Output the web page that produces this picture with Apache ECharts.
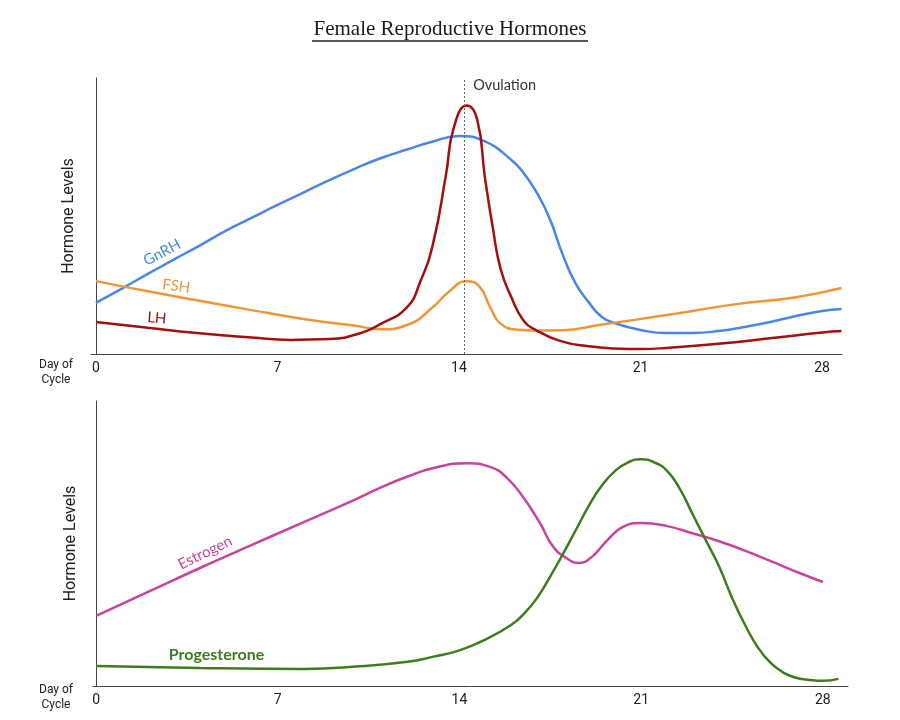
<!DOCTYPE html>
<html>
<head>
<meta charset="utf-8">
<script src="https://cdn.jsdelivr.net/npm/echarts@6/dist/echarts.min.js"></script>
<style>
  html, body { margin: 0; padding: 0; background: #fff; }
  #main { width: 900px; height: 720px; }
</style>
</head>
<body>
<div id="main"></div>
<script>
// day of cycle ticks
var dayTicks = [0, 7, 14, 21, 28];
var ovulationDay = 14.3;

// top panel
var gnrhDays = [0, 1, 2, 3, 4, 5, 6, 7, 8, 9, 10, 11, 12, 13, 14, 15, 16, 16.5, 17, 17.5, 18, 18.5, 19, 19.5, 20, 21, 22, 23, 24, 25, 26, 27, 28, 28.75];
var gnrhVals = [18.5, 23.7, 29, 34.2, 39.3, 44.6, 49.3, 54, 58.5, 63, 67.2, 71, 74.1, 77, 79, 77, 70.5, 65.5, 58.5, 49, 36, 25.5, 18.8, 13.5, 11.2, 8.7, 7.6, 7.6, 8.3, 9.8, 11.6, 13.8, 15.6, 16.3];

var fshDays = [0, 2, 4, 6, 8, 10, 11, 12, 13, 13.6, 14.3, 14.8, 15.2, 15.6, 16.3, 17, 18, 19.4, 22, 24.5, 27, 28.75];
var fshVals = [26.4, 22.7, 19.3, 15.9, 12.7, 10.2, 9, 10.5, 17, 22.5, 26.4, 24.3, 17, 11, 8.8, 8.5, 8.6, 10.5, 14.1, 17.8, 20.6, 23.9];

var lhDays = [0, 2, 4, 6, 7.5, 9, 10, 11, 12, 12.5, 13, 13.5, 13.8, 14.3, 14.7, 15, 15.3, 15.6, 16, 16.5, 17, 18, 19, 20, 21, 22, 24, 26, 28, 28.75];
var lhVals = [11.6, 9.5, 7.5, 6, 5.1, 5.4, 7, 11, 17, 26, 40, 65, 82, 90, 85, 64, 46, 31, 21, 12, 8.5, 4.5, 2.8, 2, 1.8, 2.2, 3.7, 5.7, 7.8, 8.3];

// bottom panel
var estrogenDays = [0, 2, 4, 6, 8, 10, 11, 12, 13, 14.3, 15.2, 15.8, 16.45, 17.1, 17.6, 18.1, 18.6, 19.1, 19.7, 20.3, 21, 22, 23, 24, 25, 26, 27, 28];
var estrogenVals = [24.6, 33, 41.4, 49.5, 57.5, 65.5, 69.8, 73.5, 76.5, 78.2, 76.8, 73.3, 66.3, 57.2, 49, 45, 43.2, 45.3, 51.2, 55.8, 57.2, 56.1, 53.5, 50.8, 47.5, 43.8, 40, 36.5];

var progDays = [0, 4, 8, 10, 12, 13, 14, 15, 16, 16.5, 17, 17.5, 18, 18.5, 19, 19.5, 20, 20.5, 21, 21.5, 22, 22.5, 23, 23.5, 24, 24.5, 25, 25.5, 26, 26.5, 27, 27.5, 28, 28.6];
var progVals = [7, 6.3, 6, 6.8, 8.5, 10.3, 12.5, 16.3, 21.5, 25.5, 31, 38.5, 46.5, 55, 63.5, 70.5, 75.5, 78.5, 79.6, 78.5, 75.5, 69, 60, 51, 42, 31, 21.5, 13.5, 8, 4.6, 2.8, 2.1, 1.8, 2.5];

function pairs(days, vals) {
  return days.map(function (d, i) { return [d, vals[i]]; });
}

var chart = echarts.init(document.getElementById('main'));

var axisFont = 'Roboto, "Liberation Sans", sans-serif';
var labelFont = 'Lato, "Noto Sans", sans-serif';

function xAxisFor(idx, min, max) {
  return {
    type: 'value', gridIndex: idx, min: min, max: max,
    axisLine: { show: true, onZero: false, lineStyle: { color: '#444', width: 1 } },
    axisTick: { show: false },
    splitLine: { show: false },
    axisLabel: { customValues: dayTicks, color: '#222', fontSize: 14, margin: 7, fontFamily: axisFont }
  };
}
function yAxisFor(idx) {
  return {
    type: 'value', gridIndex: idx, min: 0, max: 100,
    name: 'Hormone Levels', nameLocation: 'middle', nameGap: 14,
    nameTextStyle: { color: '#222', fontSize: 16, fontFamily: axisFont },
    axisLine: { show: true, lineStyle: { color: '#444', width: 1 } },
    axisTick: { show: false }, axisLabel: { show: false }, splitLine: { show: false }
  };
}

function ovulation(yTop, yLabel) {
  return {
    markLine: {
      silent: true, symbol: 'none', animation: false,
      lineStyle: { color: '#666', type: [2, 2], width: 1 },
      label: { show: false },
      data: [[{ coord: [ovulationDay - 0.1, 0] }, { coord: [ovulationDay - 0.1, yTop] }]]
    },
    markPoint: {
      silent: true, symbol: 'circle', symbolSize: 0, animation: false,
      label: { show: true, position: 'right', distance: 9, formatter: 'Ovulation', color: '#333', fontSize: 14.5, fontFamily: labelFont },
      data: [{ coord: [ovulationDay - 0.1, yLabel] }]
    }
  };
}

function nameTag(text, day, val, color, rot, bold) {
  return {
    silent: true, symbol: 'circle', symbolSize: 0, animation: false,
    label: { show: true, position: 'inside', formatter: text, color: color, fontSize: bold ? 16 : 15, rotate: rot,
      fontWeight: bold ? 'bold' : 'normal', fontFamily: labelFont },
    data: [{ coord: [day, val] }]
  };
}

function curve(name, days, vals, color, xi, tag) {
  return {
    name: name, type: 'line', xAxisIndex: xi, yAxisIndex: xi,
    data: pairs(days, vals), smooth: 0.5, showSymbol: false, symbol: 'none',
    lineStyle: { color: color, width: 2.5 }, itemStyle: { color: color },
    markPoint: tag, animation: false
  };
}

var ovTop = ovulation(100, 97.5);
var ovBot = ovulation(106.3, 104.2);

var option = {
  backgroundColor: '#fff',
  animation: false,
  grid: [
    { left: 91, top: 78, width: 751, height: 276 },
    { left: 93, top: 401, width: 755, height: 285 }
  ],
  xAxis: [xAxisFor(0, -0.19, 28.77), xAxisFor(1, -0.12, 28.97)],
  yAxis: [yAxisFor(0), yAxisFor(1)],
  graphic: [
    { type: 'text', left: 'center', top: 19, style: { text: 'Female Reproductive Hormones', fill: '#1a1a1a', font: '21px "Liberation Serif", "DejaVu Serif", serif' } },
    { type: 'line', shape: { x1: 312, y1: 41, x2: 588, y2: 41 }, style: { stroke: '#222', lineWidth: 1.3 } },
    { type: 'text', x: 56, y: 357, style: { text: 'Day of\nCycle', fill: '#222', align: 'center', lineHeight: 15, font: '12px Roboto, sans-serif' } },
    { type: 'text', x: 56, y: 682, style: { text: 'Day of\nCycle', fill: '#222', align: 'center', lineHeight: 15, font: '12px Roboto, sans-serif' } }
  ],
  series: [
    curve('GnRH', gnrhDays, gnrhVals, '#4a86e8', 0, nameTag('GnRH', 2.55, 36.8, '#4a86e8', 28)),
    curve('FSH', fshDays, fshVals, '#f0963a', 0, nameTag('FSH', 3.1, 24.6, '#f0963a', -8)),
    curve('LH', lhDays, lhVals, '#a30f0f', 0, nameTag('LH', 2.35, 13, '#a30f0f', -5)),
    { type: 'line', xAxisIndex: 0, yAxisIndex: 0, data: [], markLine: ovTop.markLine, markPoint: ovTop.markPoint },
    curve('Estrogen', estrogenDays, estrogenVals, '#c8449b', 1, nameTag('Estrogen', 4.2, 46.8, '#c8449b', 26)),
    curve('Progesterone', progDays, progVals, '#3d7d1f', 1, nameTag('Progesterone', 4.64, 10.8, '#3d7d1f', 0, true)),
    { type: 'line', xAxisIndex: 1, yAxisIndex: 1, data: [], markLine: ovBot.markLine, markPoint: ovBot.markPoint }
  ]
};
chart.setOption(option);
</script>
</body>
</html>
